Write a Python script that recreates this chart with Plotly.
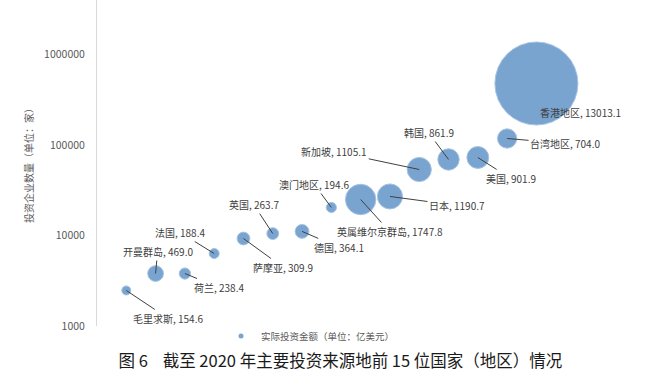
import plotly.graph_objects as go
import math

# ---- data ----
regions = ["毛里求斯", "开曼群岛", "荷兰", "法国", "萨摩亚", "英国", "德国", "澳门地区",
           "英属维尔京群岛", "日本", "新加坡", "韩国", "美国", "台湾地区", "香港地区"]
invest_amount = [154.6, 469.0, 238.4, 188.4, 309.9, 263.7, 364.1, 194.6,
                 1747.8, 1190.7, 1105.1, 861.9, 901.9, 704.0, 13013.1]  # 亿美元
firm_count = [2470, 3800, 3800, 6320, 9260, 10500, 11100, 20400,
              25000, 27000, 53600, 69200, 72800, 118000, 478000]  # 家
tick_vals = [1000, 10000, 100000, 1000000]
tick_text = ["1000", "10000", "100000", "1000000"]

# ---- label placement (pixel offsets of label centre from bubble, +dy = down) ----
label_dx = [42, 2, 34, -34, 40, -19, 37, -17, 29, 67, -85, -20, 33, 58, 44]
label_dy = [28, -22, 14, -21, 29, -29, 16, -23, 32, 9, -18, -27, 21, 5, 29]
label_arrow = [True] * 14 + [False]

FONT = "Noto Sans CJK SC, Noto Sans, sans-serif"
xs = list(range(1, len(regions) + 1))
max_diam = 83
sizeref = 2.0 * max(invest_amount) / max_diam ** 2

fig = go.Figure()
fig.add_trace(go.Scatter(
    x=xs, y=firm_count, mode="markers",
    marker=dict(size=invest_amount, sizemode="area", sizeref=sizeref,
                color="rgb(122,164,208)", line=dict(color="rgb(165,195,226)", width=1),
                opacity=1),
    text=regions, showlegend=False, hoverinfo="text",
))
# legend entry
fig.add_trace(go.Scatter(
    x=[None], y=[None], mode="markers",
    marker=dict(size=5, color="rgb(122,164,208)"),
    name="实际投资金额（单位：亿美元）", showlegend=True,
))

for i, name in enumerate(regions):
    txt = f"{name}, {invest_amount[i]:.1f}"
    if label_arrow[i]:
        fig.add_annotation(x=xs[i], y=math.log10(firm_count[i]), text=txt,
                           showarrow=True, arrowhead=0, arrowwidth=1, arrowcolor="#404040",
                           ax=label_dx[i], ay=label_dy[i], standoff=0,
                           font=dict(family=FONT, size=10, color="#404040"))
    else:
        fig.add_annotation(x=xs[i], y=math.log10(firm_count[i]), text=txt,
                           showarrow=False, xshift=label_dx[i], yshift=-label_dy[i],
                           font=dict(family=FONT, size=10, color="#404040"))

fig.update_layout(
    width=646, height=392,
    margin=dict(l=97, r=51, t=0, b=66),
    paper_bgcolor="white", plot_bgcolor="white",
    font=dict(family=FONT, color="#595959"),
    xaxis=dict(visible=False, range=[0, 17]),
    yaxis=dict(type="log", range=[3, 3 + 326 / 90.5],
               tickvals=tick_vals, ticktext=tick_text,
               tickfont=dict(size=10.5, color="#595959"),
               showgrid=False, zeroline=False, showline=True,
               linecolor="#d9d9d9", linewidth=1, ticks="",
               ticklabelstandoff=9,
               title=dict(text="投资企业数量（单位：家）", standoff=8,
                          font=dict(size=10, color="#595959"))),
    legend=dict(orientation="h", x=0.249, xanchor="left", y=-0.031, yanchor="middle",
                font=dict(size=9.5, color="#595959"), bgcolor="rgba(0,0,0,0)"),
    title=dict(text="图 6 &nbsp;&nbsp; 截至 2020 年主要投资来源地前 15 位国家（地区）情况",
               x=0.527, xanchor="center", y=1 - 361 / 392, yanchor="middle",
               font=dict(family=FONT, size=16.5, color="#1a1a1a")),
    showlegend=True,
)

fig.write_html("out.html", config={"displayModeBar": False},
               post_script="document.body.style.margin='0';")
